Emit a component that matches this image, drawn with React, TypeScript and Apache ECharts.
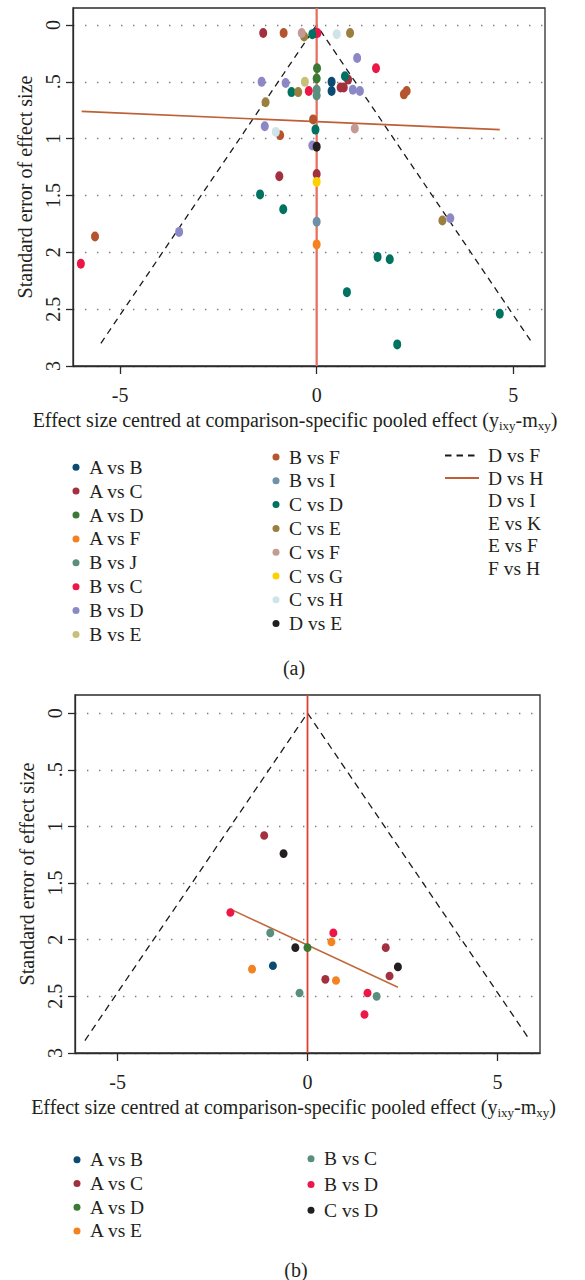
import React, { useEffect, useRef } from "react";
import * as echarts from "echarts";

const FONT = "'Liberation Serif', 'DejaVu Serif', serif";
const INK = "#231f20";
const ELLIPSE = "path://M0,-1A1,1,0,1,1,0,1A1,1,0,1,1,0,-1Z";

// ---- axis ticks ----
const xTickValues = [-5, 0, 5];
const yTickValues = [0, 0.5, 1, 1.5, 2, 2.5, 3];
const yTickLabels = ["0", ".5", "1", "1.5", "2", "2.5", "3"];

// ---- panel (a) : [effect size centred, standard error] ----
const aNames = [
  "A vs B", "A vs C", "A vs D", "A vs F", "B vs J", "B vs C", "B vs D", "B vs E",
  "B vs F", "B vs I", "C vs D", "C vs E", "C vs F", "C vs G", "C vs H", "D vs E",
];
const aColors = [
  "#0b4a72", "#a3303e", "#3a7a34", "#f58220", "#5a8f80", "#ec1746", "#8c88c6", "#c9bf78",
  "#b4552d", "#6e91a9", "#007360", "#9b7f3f", "#c49a94", "#ffd000", "#cfe4e9", "#231f20",
];
const aAvsB = [[0.38, 0.5], [0.38, 0.58], [-0.04, 0.07]];
const aAvsC = [[-1.36, 0.07], [-0.95, 1.33], [0, 1.31], [0.61, 0.55], [0.69, 0.55], [0.8, 0.48]];
const aAvsD = [[0.01, 0.38], [0, 0.47]];
const aAvsF = [[0, 1.93]];
const aBvsJ = [[0, 0.57], [0, 0.62]];
const aBvsC = [[0.02, 0.07], [1.51, 0.38], [-0.2, 0.58], [-6.0, 2.1]];
const aBvsD = [[-1.4, 0.5], [-0.79, 0.51], [-1.32, 0.89], [1.03, 0.29], [0.92, 0.57], [1.1, 0.58], [-0.11, 1.06], [-3.5, 1.82], [3.4, 1.7]];
const aBvsE = [[-0.3, 0.5]];
const aBvsF = [[-0.84, 0.07], [-0.93, 0.97], [2.22, 0.61], [2.29, 0.58], [-0.09, 0.83], [-5.64, 1.86]];
const aBvsI = [[0, 1.73]];
const aCvsD = [[-0.11, 0.08], [-0.64, 0.59], [-1.44, 1.49], [0.72, 0.45], [-0.03, 0.92], [-0.85, 1.62], [1.55, 2.04], [1.86, 2.06], [0.77, 2.35], [2.05, 2.81], [4.66, 2.54]];
const aCvsE = [[-0.32, 0.1], [0.85, 0.07], [-0.47, 0.59], [-1.3, 0.68], [3.2, 1.72]];
const aCvsF = [[-0.38, 0.07], [0.97, 0.91]];
const aCvsG = [[0, 1.38]];
const aCvsH = [[0.51, 0.08], [-1.04, 0.94]];
const aDvsE = [[0, 1.07]];
const aPoints = [aAvsB, aAvsC, aAvsD, aAvsF, aBvsJ, aBvsC, aBvsD, aBvsE, aBvsF, aBvsI, aCvsD, aCvsE, aCvsF, aCvsG, aCvsH, aDvsE];
const aFunnel = [[-5.49, 2.8], [0, 0], [5.49, 2.8]];
const aRegression = [[-5.98, 0.76], [4.66, 0.92]];
const aNullLine = [[0, -0.15], [0, 3]];
const aLegendOnly = ["D vs I", "E vs K", "E vs F", "F vs H"];
const aLegendCol1 = ["A vs B", "A vs C", "A vs D", "A vs F", "B vs J", "B vs C", "B vs D", "B vs E"];
const aLegendCol2 = ["B vs F", "B vs I", "C vs D", "C vs E", "C vs F", "C vs G", "C vs H", "D vs E"];
const aLegendCol3 = ["D vs F", "D vs H", "D vs I", "E vs K", "E vs F", "F vs H"];

// ---- panel (b) ----
const bNames = ["A vs B", "A vs C", "A vs D", "A vs E", "B vs C", "B vs D", "C vs D"];
const bColors = ["#0b4a72", "#a3303e", "#3a7a34", "#f58220", "#5a8f80", "#ec1746", "#231f20"];
const bAvsB = [[-0.91, 2.23]];
const bAvsC = [[-1.14, 1.08], [2.06, 2.07], [2.16, 2.32], [0.47, 2.35]];
const bAvsD = [[0, 2.07]];
const bAvsE = [[-1.46, 2.26], [0.63, 2.02], [0.75, 2.36]];
const bBvsC = [[-0.98, 1.94], [-0.21, 2.47], [1.82, 2.5]];
const bBvsD = [[-2.03, 1.76], [0.68, 1.94], [1.58, 2.47], [1.5, 2.66]];
const bCvsD = [[-0.63, 1.24], [-0.32, 2.07], [2.38, 2.24]];
const bPoints = [bAvsB, bAvsC, bAvsD, bAvsE, bBvsC, bBvsD, bCvsD];
const bFunnel = [[-5.86, 2.89], [0, 0], [5.86, 2.89]];
const bRegression = [[-2.03, 1.73], [2.38, 2.42]];
const bNullLine = [[0, -0.16], [0, 3]];
const bLegendCol1 = ["A vs B", "A vs C", "A vs D", "A vs E"];
const bLegendCol2 = ["B vs C", "B vs D", "C vs D"];
const B = "(b) ";

const xTitle =
  "{m|Effect size centred at comparison-specific pooled effect (y}{s|ixy}{m|-m}{s|xy}{m|)}";

function makeXAxis(gridIndex: number, min: number, max: number) {
  return {
    gridIndex,
    type: "value",
    min,
    max,
    axisLine: { show: true, onZero: false, lineStyle: { color: "#2b2b2b", width: 1.3 } },
    axisTick: { show: true, length: 8, customValues: xTickValues, lineStyle: { color: "#2b2b2b", width: 1.3 } },
    axisLabel: {
      customValues: xTickValues,
      margin: 18.5,
      fontSize: 20,
      fontFamily: FONT,
      color: INK,
      formatter: (v: number) => String(v),
    },
    splitLine: { show: false },
    name: xTitle,
    nameLocation: "middle",
    nameGap: 42,
    nameTextStyle: {
      padding: [0, 28, 0, 0],
      rich: {
        m: { fontSize: 20, fontFamily: FONT, color: INK, lineHeight: 24, verticalAlign: "middle" },
        s: { fontSize: 13, fontFamily: FONT, color: INK, lineHeight: 13, verticalAlign: "bottom" },
      },
    },
  };
}

function makeYAxis(gridIndex: number, min: number) {
  return {
    gridIndex,
    type: "value",
    min,
    max: 3,
    inverse: true,
    axisLine: { show: true, onZero: false, lineStyle: { color: "#2b2b2b", width: 1.3 } },
    axisTick: { show: true, length: 7, customValues: yTickValues, lineStyle: { color: "#2b2b2b", width: 1.3 } },
    axisLabel: {
      customValues: yTickValues,
      rotate: 90,
      margin: 10,
      fontSize: 20,
      fontFamily: FONT,
      color: INK,
      formatter: (v: number) => {
        const i = yTickValues.indexOf(v);
        return i >= 0 ? yTickLabels[i] : "";
      },
    },
    splitLine: { show: true, lineStyle: { color: "#7a7a7a", width: 1.4, type: [1.4, 10.6] } },
    name: "Standard error of effect size",
    nameLocation: "middle",
    nameGap: 37,
    nameTextStyle: { fontSize: 20, fontFamily: FONT, color: INK },
  };
}

function makeLegend(names: string[], left: number, top: number, gap: number, pad: number, icon: string | null, itemWidth: number, prefix: string) {
  return {
    orient: "vertical",
    left,
    top,
    padding: 0,
    itemGap: gap,
    itemWidth,
    itemHeight: 9,
    selectedMode: false,
    formatter: (n: string) => n.replace(B, ""),
    textStyle: { fontSize: 19.5, fontFamily: FONT, color: INK, lineHeight: 19, padding: [0, 0, 0, pad] },
    data: names.map((n) =>
      icon ? { name: prefix + n, icon } : { name: prefix + n, itemStyle: { opacity: 0 } }
    ),
  };
}

export default function App() {
  const ref = useRef<HTMLDivElement>(null);

  useEffect(() => {
    document.body.style.margin = "0";
    if (!ref.current) return;
    const chart = echarts.init(ref.current, null, { renderer: "svg" });

    const series: any[] = [];
    // panel (a) reference lines
    series.push({
      name: "D vs F", type: "line", xAxisIndex: 0, yAxisIndex: 0, data: aFunnel, symbol: "none", silent: true, z: 2,
      lineStyle: { color: "#1a1a1a", width: 1.3, type: [6.5, 5] }, itemStyle: { color: "#1a1a1a" },
    });
    series.push({
      name: "D vs H", type: "line", xAxisIndex: 0, yAxisIndex: 0, data: aRegression, symbol: "none", silent: true, z: 2,
      lineStyle: { color: "#bf5f36", width: 1.6 }, itemStyle: { color: "#c98a70" },
    });
    series.push({
      name: "null a", type: "line", xAxisIndex: 0, yAxisIndex: 0, data: aNullLine, symbol: "none", silent: true, z: 2,
      lineStyle: { color: "#e9705f", width: 2.3 },
    });
    aNames.forEach((n, i) => {
      series.push({
        name: n, type: "scatter", xAxisIndex: 0, yAxisIndex: 0, data: aPoints[i], symbol: ELLIPSE,
        symbolSize: [8, 10], itemStyle: { color: aColors[i], opacity: 1 }, z: 3,
      });
    });
    aLegendOnly.forEach((n) => {
      series.push({ name: n, type: "scatter", xAxisIndex: 0, yAxisIndex: 0, data: [], itemStyle: { color: "rgba(0,0,0,0)" } });
    });

    // panel (b)
    series.push({
      name: B + "funnel", type: "line", xAxisIndex: 1, yAxisIndex: 1, data: bFunnel, symbol: "none", silent: true, z: 2,
      lineStyle: { color: "#1a1a1a", width: 1.3, type: [7, 5] },
    });
    series.push({
      name: B + "regression", type: "line", xAxisIndex: 1, yAxisIndex: 1, data: bRegression, symbol: "none", silent: true, z: 2,
      lineStyle: { color: "#c0683a", width: 1.5 },
    });
    series.push({
      name: B + "null", type: "line", xAxisIndex: 1, yAxisIndex: 1, data: bNullLine, symbol: "none", silent: true, z: 2,
      lineStyle: { color: "#e0402e", width: 1.8 },
    });
    bNames.forEach((n, i) => {
      series.push({
        name: B + n, type: "scatter", xAxisIndex: 1, yAxisIndex: 1, data: bPoints[i], symbol: ELLIPSE,
        symbolSize: [8, 8.6], itemStyle: { color: bColors[i], opacity: 1 }, z: 3,
      });
    });

    const option: any = {
      animation: false,
      backgroundColor: "#ffffff",
      textStyle: { fontFamily: FONT },
      grid: [
        { left: 73, top: 8, width: 472, height: 358, show: true, borderColor: "#2b2b2b", borderWidth: 1.3, containLabel: false },
        { left: 75, top: 695, width: 465, height: 358, show: true, borderColor: "#2b2b2b", borderWidth: 1.3, containLabel: false },
      ],
      xAxis: [makeXAxis(0, -6.2, 5.81), makeXAxis(1, -6.12, 6.12)],
      yAxis: [makeYAxis(0, -0.15), makeYAxis(1, -0.16)],
      legend: [
        makeLegend(aLegendCol1, 72.5, 457.2, 3.9, 4.8, ELLIPSE, 7, ""),
        makeLegend(aLegendCol2, 272.5, 447, 3.8, 4.5, ELLIPSE, 7, ""),
        makeLegend(aLegendCol3, 444, 445.5, 2.6, 4, null, 34, ""),
        makeLegend(bLegendCol1, 73.5, 1149.8, 3.7, 4.5, ELLIPSE, 7, B),
        makeLegend(bLegendCol2, 307.5, 1148.8, 5.7, 4.5, ELLIPSE, 7, B),
      ],
      graphic: [
        { type: "text", x: 294, y: 668, style: { text: "(a)", fontSize: 20, fontFamily: FONT, fill: INK, align: "center", verticalAlign: "middle" } },
        { type: "text", x: 296, y: 1270, style: { text: "(b)", fontSize: 20, fontFamily: FONT, fill: INK, align: "center", verticalAlign: "middle" } },
      ],
      series,
    };
    chart.setOption(option);
    return () => chart.dispose();
  }, []);

  return <div ref={ref} style={{ width: 585, height: 1280 }} />;
}
